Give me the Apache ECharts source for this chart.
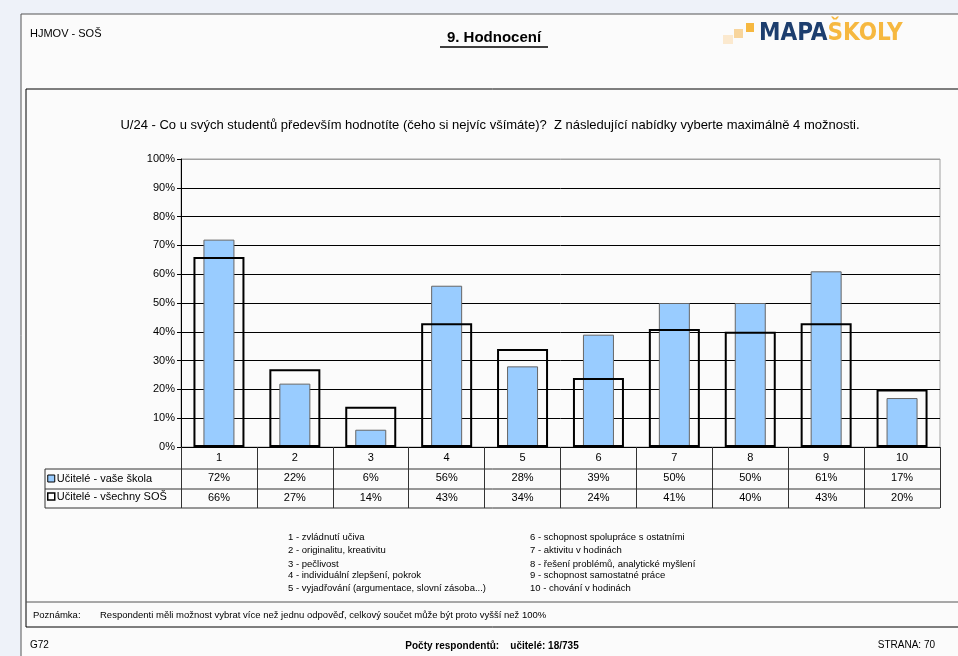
<!DOCTYPE html>
<html><head><meta charset="utf-8">
<script src="https://cdn.jsdelivr.net/npm/echarts@6/dist/echarts.min.js"></script>
<style>html,body{margin:0;padding:0;background:#eef2f9;}#c{width:958px;height:656px;}</style>
</head><body><div id="c"></div>
<script>
const categories = ['1','2','3','4','5','6','7','8','9','10'];
const seriesNames = ['Učitelé - vaše škola','Učitelé - všechny SOŠ'];
const skola = [72,22,6,56,28,39,50,50,61,17];
const vsechny = [66,27,14,43,34,24,41,40,43,20];
const yTicks = [0,10,20,30,40,50,60,70,80,90,100];
const legendLeft = ['1 - zvládnutí učiva','2 - originalitu, kreativitu','3 - pečlivost','4 - individuální zlepšení, pokrok','5 - vyjadřování (argumentace, slovní zásoba...)'];
const legendRight = ['6 - schopnost spolupráce s ostatními','7 - aktivitu v hodinách','8 - řešení problémů, analytické myšlení','9 - schopnost samostatné práce','10 - chování v hodinách'];
const chartTitle = 'U/24 - Co u svých studentů především hodnotíte (čeho si nejvíc všímáte)?  Z následující nabídky vyberte maximálně 4 možnosti.';

const F = 'Liberation Sans, Arial, sans-serif';
const chart = echarts.init(document.getElementById('c'), null, {renderer:'canvas'});

const legLeftY = [537, 550, 564, 575, 588];
const graphic = [
  {type:'rect', shape:{x:21,y:14,width:960,height:660}, style:{fill:'#fbfbfb', stroke:'#555', lineWidth:1}, z:-10},
  {type:'rect', shape:{x:26,y:89,width:960,height:538}, style:{fill:'none', stroke:'#000', lineWidth:1}, z:-9},
  {type:'line', shape:{x1:26,y1:602,x2:958,y2:602}, style:{stroke:'#555', lineWidth:1}},
  {type:'text', left:30, top:28, style:{text:'HJMOV - SOŠ', font:'11px '+F, fill:'#000'}},
  {type:'text', x:494, y:38, style:{text:'9. Hodnocení', font:'bold 15px '+F, fill:'#000', textAlign:'center', textVerticalAlign:'middle'}},
  {type:'line', shape:{x1:440,y1:47,x2:548,y2:47}, style:{stroke:'#000', lineWidth:1.5}},
  {type:'rect', shape:{x:723,y:35,width:10,height:9}, style:{fill:'#fbe9cf'}},
  {type:'rect', shape:{x:734,y:29,width:9,height:9}, style:{fill:'#f8d59c'}},
  {type:'rect', shape:{x:746,y:23,width:8,height:9}, style:{fill:'#f6b840'}},
  {type:'text', x:759, y:34, style:{text:'{a|MAPA}{b|ŠKOLY}', textVerticalAlign:'middle',
     rich:{a:{font:'bold 24px DejaVu Sans Condensed, sans-serif', fill:'#1d3e6e'}, b:{font:'bold 24px DejaVu Sans Condensed, sans-serif', fill:'#f6b840'}}}},
  {type:'text', x:490, y:125, style:{text:chartTitle, font:'13px '+F, fill:'#000', textAlign:'center', textVerticalAlign:'middle'}},
  // table lines
  {type:'line', shape:{x1:45,y1:469,x2:940,y2:469}, style:{stroke:'#333', lineWidth:1}},
  {type:'line', shape:{x1:45,y1:489,x2:940,y2:489}, style:{stroke:'#333', lineWidth:1}},
  {type:'line', shape:{x1:45,y1:508,x2:940,y2:508}, style:{stroke:'#333', lineWidth:1}},
  {type:'line', shape:{x1:45,y1:469,x2:45,y2:508}, style:{stroke:'#333', lineWidth:1}},
  {type:'text', left:33, top:610, style:{text:'Poznámka:', font:'9.5px '+F, fill:'#000'}},
  {type:'text', left:100, top:610, style:{text:'Respondenti měli možnost vybrat více než jednu odpověď, celkový součet může být proto vyšší než 100%', font:'9.5px '+F, fill:'#000'}},
  {type:'text', left:30, top:640, style:{text:'G72', font:'10px '+F, fill:'#000'}},
  {type:'text', x:492, y:646, style:{text:'Počty respondentů:    učitelé: 18/735', font:'bold 10px '+F, fill:'#000', textAlign:'center', textVerticalAlign:'middle'}},
  {type:'text', x:935, y:645, style:{text:'STRANA: 70', font:'10px '+F, fill:'#000', textAlign:'right', textVerticalAlign:'middle'}}
];
legendLeft.forEach((t,i)=>graphic.push({type:'text', x:288, y:legLeftY[i], style:{text:t, font:'9.5px '+F, fill:'#000', textVerticalAlign:'middle'}}));
legendRight.forEach((t,i)=>graphic.push({type:'text', x:530, y:legLeftY[i], style:{text:t, font:'9.5px '+F, fill:'#000', textVerticalAlign:'middle'}}));

const option = {
  backgroundColor:'#eef2f9',
  animation:false,
  textStyle:{fontFamily:F},
  grid:{left:181, right:18, top:159, bottom:209, show:true, borderColor:'#a0a0a0', borderWidth:1, backgroundColor:'transparent'},
  legend:{orient:'vertical', left:47, top:473, padding:0, itemWidth:7, itemHeight:7, itemGap:7, icon:'rect',
    textStyle:{fontSize:11, color:'#000', fontFamily:F, padding:[0,0,0,-3]},
    data:[{name:seriesNames[0], itemStyle:{color:'#99ccff', borderColor:'#000', borderWidth:1}},
          {name:seriesNames[1], itemStyle:{color:'#fff', borderColor:'#000', borderWidth:1.5}}]},
  xAxis:[
    {type:'category', data:categories, position:'bottom',
     axisLine:{lineStyle:{color:'#000', width:1}},
     axisTick:{show:true, interval:0, length:61, lineStyle:{color:'#333'}},
     axisLabel:{interval:0, margin:1, color:'#000',
       formatter:(v,i)=>'{a|'+v+'}\n{a|'+skola[i]+'%}\n{a|'+vsechny[i]+'%}',
       rich:{a:{fontSize:11, lineHeight:20, fontFamily:F, color:'#000'}}}},
    {type:'category', data:categories, show:false}
  ],
  yAxis:{type:'value', min:yTicks[0], max:yTicks[yTicks.length-1], interval:10,
    axisLine:{show:true, lineStyle:{color:'#000'}},
    axisTick:{show:true, length:4, lineStyle:{color:'#000'}},
    axisLabel:{formatter:'{value}%', fontSize:11, color:'#000', margin:6, fontFamily:F},
    splitLine:{show:true, lineStyle:{color:['#000','#000','#000','#000','#000','#000','#000','#000','#000','#000','#a0a0a0'], width:1}}},
  series:[
    {name:seriesNames[0], type:'bar', xAxisIndex:0, data:skola, barWidth:31, z:2,
     itemStyle:{color:'#99ccff', borderColor:'#666', borderWidth:1}},
    {name:seriesNames[1], type:'bar', xAxisIndex:1, data:vsechny, barWidth:51, z:3,
     itemStyle:{color:'rgba(0,0,0,0)', borderColor:'#000', borderWidth:2}}
  ],
  graphic:graphic
};
chart.setOption(option);
</script></body></html>
